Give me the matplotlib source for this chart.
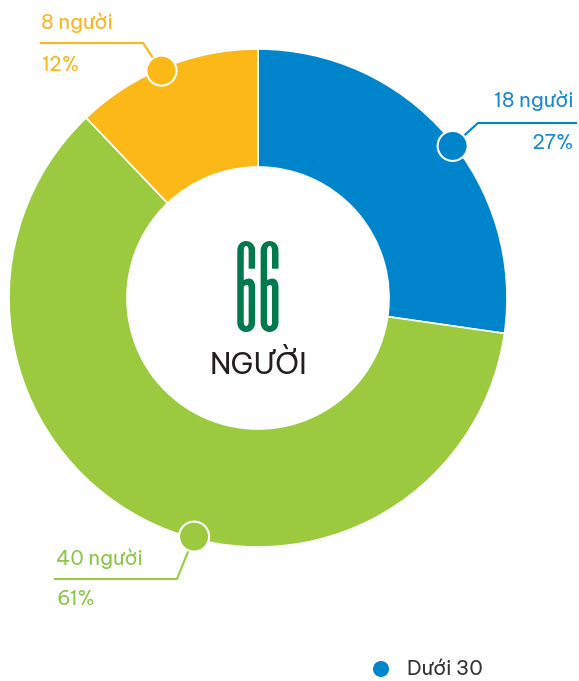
import matplotlib
matplotlib.use("Agg")
import matplotlib.pyplot as plt
import numpy as np

# data
groups = ["Dưới 30", "30 - 50", "Trên 50"]
counts = [18, 40, 8]
percents = ["27%", "61%", "12%"]
total = sum(counts)
colors = ["#0085CC", "#9BCA3E", "#FBB817"]
text_colors = ["#1A8AD0", "#8CC54A", "#F9B522"]

plt.rcParams['font.family'] = ['Be Vietnam Pro', 'Noto Sans', 'DejaVu Sans']

W, H = 579, 681
fig = plt.figure(figsize=(W / 100, H / 100), dpi=100)
ax = fig.add_axes([0, 0, 1, 1])

cx, cy = 258, 383
r_out, ring = 249, 118

ax.pie(counts, colors=colors, startangle=90, counterclock=False,
       center=(cx, cy), radius=r_out,
       wedgeprops=dict(width=ring, edgecolor='white', linewidth=1.2))

# label markers: angle of dot on ring, leader line corner and end, text anchor
marker_angles = [38, 255, 113]
leaders = [
    [(478, 558), (576, 558)],
    [(177, 102), (55, 102)],
    [(143, 638), (41, 638)],
]
text_x = [(574, 'right'), (56, 'left'), (41, 'left')]
text_y = [(574, 532), (116, 76), (652, 610)]

for i in range(len(counts)):
    a = np.deg2rad(marker_angles[i])
    mx = cx + (r_out - 2) * np.cos(a)
    my = cy + (r_out - 2) * np.sin(a)
    pts = np.array([(mx, my)] + leaders[i])
    ax.plot(pts[:, 0], pts[:, 1], color=colors[i], lw=1.5, zorder=3)
    ax.add_patch(plt.Circle((mx, my), 15, facecolor=colors[i],
                            edgecolor='white', lw=1.5, zorder=4))
    x, ha = text_x[i]
    ax.text(x, text_y[i][0], f"{counts[i]} người", color=text_colors[i],
            fontsize=14.5, ha=ha, va='baseline', fontweight='normal')
    ax.text(x, text_y[i][1], percents[i], color=text_colors[i],
            fontsize=14.5, ha=ha, va='baseline', fontweight='normal')

# center total
ax.text(cx, 351, str(total), color='#007A4D', fontsize=75,
        ha='center', va='baseline', family=['Six Caps', 'DejaVu Sans'])
ax.text(cx, 307, "NGƯỜI", color='#231F20', fontsize=21,
        ha='center', va='baseline', fontweight='normal')

# legend (first item visible)
ax.add_patch(plt.Circle((381, 12), 8, facecolor=colors[0], edgecolor='none'))
ax.text(407, 6, groups[0], color='#333333', fontsize=14.5, ha='left',
        va='baseline', fontweight='normal')

ax.set_xlim(0, W)
ax.set_ylim(0, H)
ax.set_aspect('equal')
ax.axis('off')

fig.savefig("out.png", dpi=100)
